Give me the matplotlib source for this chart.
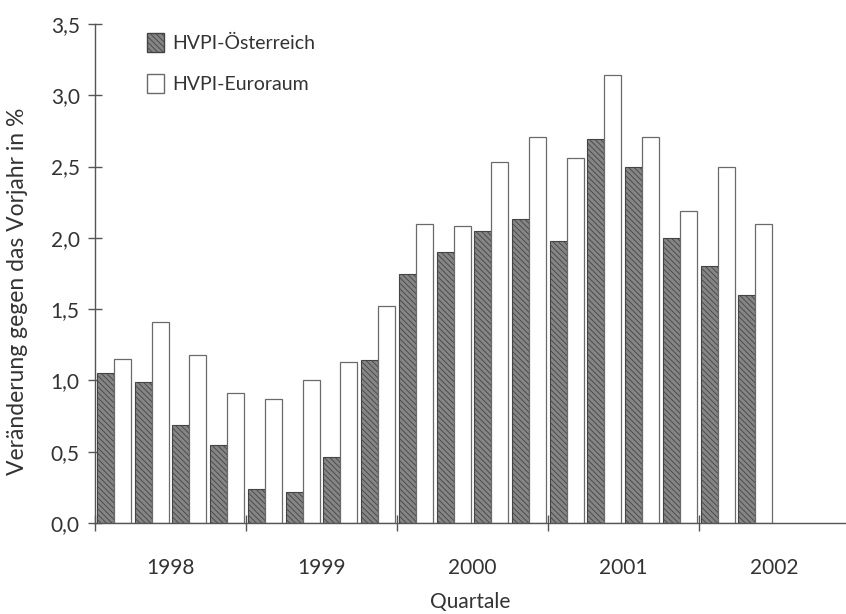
import matplotlib.pyplot as plt
from matplotlib.patches import Patch

# Quartale 1998 Q1 .. 2002 Q2
years = ["1998", "1999", "2000", "2001", "2002"]
austria = [1.05, 0.99, 0.69, 0.55,
           0.24, 0.22, 0.46, 1.14,
           1.75, 1.90, 2.05, 2.13,
           1.98, 2.69, 2.50, 2.00,
           1.80, 1.60]
euro = [1.15, 1.41, 1.18, 0.91,
        0.87, 1.00, 1.13, 1.52,
        2.10, 2.08, 2.53, 2.71,
        2.56, 3.14, 2.71, 2.19,
        2.50, 2.10]
yticks = [0.0, 0.5, 1.0, 1.5, 2.0, 2.5, 3.0, 3.5]

plt.rcParams["font.family"] = ["Lato", "DejaVu Sans"]
plt.rcParams["hatch.color"] = "#3a3a3a"
plt.rcParams["hatch.linewidth"] = 0.6
txt = "#333333"
axc = "#555555"

fig = plt.figure(figsize=(8.46, 6.14), dpi=100)
ax = fig.add_axes([95 / 846, 1 - 523 / 614, 1 - 95 / 846, (523 - 24) / 614])

n = len(austria)
w = 0.45
xa = [i + 0.05 + w / 2 for i in range(n)]
xe = [i + 0.5 + w / 2 for i in range(n)]

ax.bar(xa, austria, width=w, facecolor="#858585", edgecolor="#444444",
       linewidth=0.8, hatch="\\\\\\\\\\\\", zorder=2)
ax.bar(xe, euro, width=w, facecolor="white", edgecolor="#6a6a6a",
       linewidth=0.9, zorder=2)

ax.set_xlim(0, 19.9)
ax.set_ylim(0, 3.5)

for s in ["top", "right"]:
    ax.spines[s].set_visible(False)
for s in ["left", "bottom"]:
    ax.spines[s].set_color(axc)
    ax.spines[s].set_linewidth(1.0)

ax.set_yticks(yticks)
ax.set_yticklabels([f"{v:.1f}".replace(".", ",") for v in yticks])
ax.tick_params(axis="y", direction="inout", length=10, width=1, color=axc,
               labelsize=15, labelcolor=txt, pad=6)

ax.set_xticks([0, 4, 8, 12, 16])
ax.set_xticklabels([])
ax.tick_params(axis="x", which="major", direction="inout", length=12, width=1,
               color=axc)
ax.set_xticks([2 + 4 * k for k in range(len(years))], minor=True)
ax.set_xticklabels(years, minor=True)
ax.tick_params(axis="x", which="minor", length=0, labelsize=15,
               labelcolor=txt, pad=25)

ax.set_ylabel("Veränderung gegen das Vorjahr in %", fontsize=16.5, color=txt)
ax.yaxis.set_label_coords(-0.089, 0.465)
ax.set_xlabel("Quartale", fontsize=15, color=txt, labelpad=10)

handles = [
    Patch(facecolor="#858585", edgecolor="#444444", hatch="\\\\\\\\\\\\",
          label="HVPI-Österreich"),
    Patch(facecolor="white", edgecolor="#6a6a6a", label="HVPI-Euroraum"),
]
leg = ax.legend(handles=handles, loc="upper left",
                bbox_to_anchor=(147 / 846, 1 - 33 / 614),
                bbox_transform=fig.transFigure, frameon=False,
                handlelength=0.85, handleheight=1.1, handletextpad=0.45,
                labelspacing=1.15, fontsize=14, borderaxespad=0,
                borderpad=0)
for t in leg.get_texts():
    t.set_color(txt)

fig.savefig("out.png", dpi=100)
